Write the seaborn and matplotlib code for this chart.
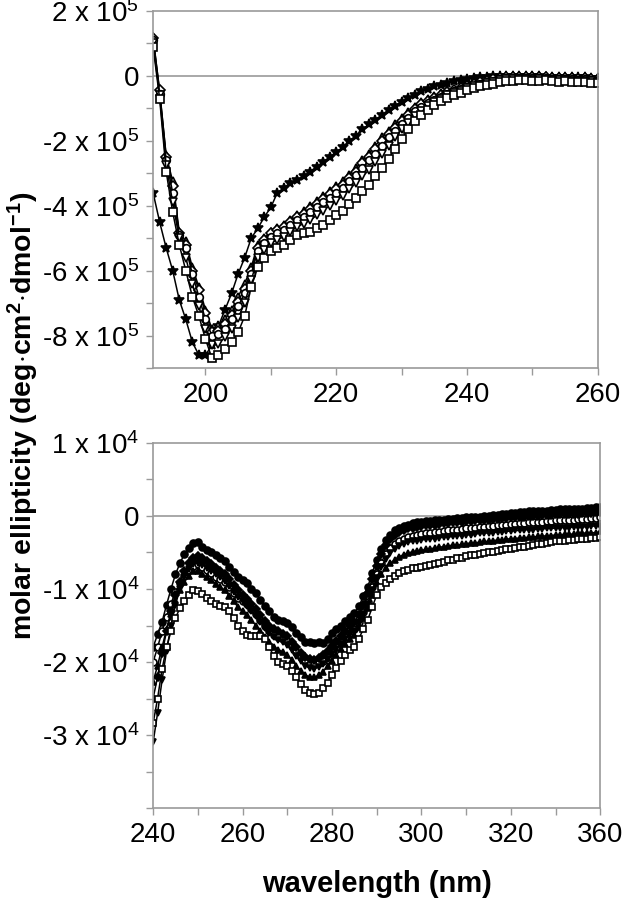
import numpy as np
import pandas as pd
import seaborn as sns
import matplotlib.pyplot as plt
from matplotlib.ticker import MultipleLocator, FixedLocator

sns.set_style("ticks")
plt.rcParams['font.family'] = ['Liberation Sans', 'DejaVu Sans']
plt.rcParams['mathtext.fontset'] = 'custom'
plt.rcParams['mathtext.rm'] = 'Liberation Sans'
plt.rcParams['mathtext.it'] = 'Liberation Sans:italic'
plt.rcParams['mathtext.bf'] = 'Liberation Sans:bold'
plt.rcParams['text.color'] = 'black'
plt.rcParams['xtick.labelcolor'] = 'black'
plt.rcParams['ytick.labelcolor'] = 'black'
plt.rcParams['axes.labelcolor'] = 'black'

# ---- far-UV panel (values in units of 1e5) ----
far_wavelength = np.arange(192, 261)

far_star = [-3.6, -4.5, -5.3, -6.0, -6.9, -7.5, -8.2, -8.6, -8.6, -8.3,
            -7.7, -7.2, -6.7, -6.1, -5.6, -5.0, -4.7, -4.35, -4.05, -3.6,
            -3.45, -3.3, -3.2, -3.1, -2.95, -2.8, -2.65, -2.5, -2.35, -2.2,
            -2.0, -1.85, -1.65, -1.5, -1.35, -1.2, -1.05, -0.92, -0.8, -0.68,
            -0.58, -0.48, -0.4, -0.33, -0.27, -0.22, -0.17, -0.13, -0.1, -0.07,
            -0.05, -0.03, -0.02, -0.01, 0.0, 0.0, 0.0, -0.01, -0.02, -0.02,
            -0.03, -0.03, -0.04, -0.04, -0.05, -0.05, -0.05, -0.06, -0.06]

far_triangle_up = [1.2, -0.5, -2.45, -3.25, -4.8, -5.1, -5.9, -6.5, -7.2, -7.8,
                   -7.7, -7.5, -7.2, -6.8, -6.4, -5.9, -5.2, -5.0, -4.8, -4.7,
                   -4.6, -4.45, -4.3, -4.15, -4.0, -3.85, -3.7, -3.55, -3.4, -3.25,
                   -3.05, -2.85, -2.6, -2.4, -2.15, -1.9, -1.7, -1.5, -1.3, -1.12,
                   -0.95, -0.82, -0.72, -0.62, -0.52, -0.44, -0.4, -0.38, -0.32, -0.25,
                   -0.19, -0.14, -0.1, -0.06, -0.03, -0.01, 0.0, 0.0, -0.01, -0.02,
                   -0.01, -0.03, -0.04, -0.03, -0.05, -0.06, -0.05, -0.07, -0.08]

far_diamond = [1.15, -0.45, -2.5, -3.4, -4.85, -5.2, -6.0, -6.6, -7.3, -7.9,
               -7.85, -7.65, -7.35, -6.95, -6.55, -6.0, -5.3, -5.05, -4.85, -4.75,
               -4.65, -4.5, -4.35, -4.25, -4.1, -3.95, -3.8, -3.65, -3.5, -3.35,
               -3.15, -2.95, -2.7, -2.5, -2.25, -2.0, -1.8, -1.6, -1.4, -1.2,
               -1.02, -0.88, -0.78, -0.68, -0.58, -0.5, -0.43, -0.38, -0.32, -0.26,
               -0.2, -0.15, -0.11, -0.08, -0.05, -0.03, -0.03, -0.04, -0.05, -0.05,
               -0.04, -0.06, -0.07, -0.06, -0.08, -0.09, -0.08, -0.1, -0.11]

far_circle = [1.1, -0.55, -2.6, -3.6, -4.9, -5.3, -6.1, -6.8, -7.5, -8.0,
              -7.95, -7.8, -7.5, -7.1, -6.7, -6.1, -5.4, -5.15, -4.95, -4.85,
              -4.75, -4.6, -4.45, -4.35, -4.2, -4.05, -3.9, -3.75, -3.6, -3.45,
              -3.25, -3.05, -2.85, -2.6, -2.4, -2.15, -1.9, -1.7, -1.5, -1.3,
              -1.1, -0.95, -0.85, -0.74, -0.64, -0.55, -0.47, -0.42, -0.36, -0.3,
              -0.24, -0.19, -0.15, -0.11, -0.08, -0.06, -0.06, -0.07, -0.08, -0.08,
              -0.07, -0.09, -0.1, -0.09, -0.11, -0.12, -0.11, -0.13, -0.14]

far_triangle_down = [1.0, -0.6, -2.75, -3.9, -5.0, -5.6, -6.4, -7.1, -7.8, -8.3,
                     -8.25, -8.05, -7.8, -7.45, -7.0, -6.3, -5.6, -5.35, -5.15, -5.05,
                     -4.95, -4.8, -4.65, -4.55, -4.45, -4.3, -4.15, -4.0, -3.85, -3.7,
                     -3.5, -3.3, -3.1, -2.9, -2.65, -2.4, -2.15, -1.9, -1.65, -1.45,
                     -1.25, -1.07, -0.94, -0.82, -0.7, -0.6, -0.52, -0.46, -0.39, -0.33,
                     -0.27, -0.22, -0.18, -0.14, -0.11, -0.1, -0.1, -0.11, -0.12, -0.11,
                     -0.12, -0.13, -0.14, -0.13, -0.15, -0.16, -0.15, -0.17, -0.18]

far_square = [0.9, -0.7, -2.95, -4.2, -5.2, -6.0, -6.8, -7.4, -8.1, -8.7,
              -8.6, -8.4, -8.2, -7.9, -7.4, -6.5, -5.9, -5.6, -5.4, -5.3,
              -5.2, -5.05, -4.9, -4.85, -4.8, -4.7, -4.6, -4.45, -4.3, -4.15,
              -3.95, -3.75, -3.55, -3.35, -3.1, -2.85, -2.55, -2.25, -1.95, -1.65,
              -1.4, -1.2, -1.05, -0.9, -0.78, -0.68, -0.6, -0.52, -0.45, -0.38,
              -0.32, -0.27, -0.24, -0.2, -0.17, -0.15, -0.14, -0.14, -0.15, -0.16,
              -0.14, -0.16, -0.18, -0.17, -0.19, -0.2, -0.19, -0.21, -0.22]

# ---- near-UV panel (values in units of 1e4) ----
near_wavelength = np.arange(240, 341)

near_dot = [-1.80, -1.62, -1.45, -1.22, -1.00, -0.80, -0.65, -0.52, -0.44, -0.37,
            -0.36, -0.42, -0.47, -0.50, -0.54, -0.57, -0.62, -0.70, -0.77, -0.83,
            -0.88, -0.92, -1.00, -1.06, -1.15, -1.23, -1.30, -1.38, -1.42, -1.44,
            -1.46, -1.52, -1.60, -1.66, -1.72, -1.73, -1.74, -1.72, -1.74, -1.68,
            -1.60, -1.55, -1.50, -1.44, -1.38, -1.33, -1.24, -1.10, -0.97, -0.78,
            -0.60, -0.45, -0.33, -0.26, -0.20, -0.17, -0.14, -0.12, -0.10, -0.09,
            -0.08, -0.07, -0.07, -0.06, -0.05, -0.05, -0.04, -0.04, -0.03, -0.03,
            -0.02, -0.02, -0.01, -0.01, 0.00, 0.00, 0.01, 0.01, 0.02, 0.03,
            0.04, 0.04, 0.05, 0.05, 0.06, 0.06, 0.07, 0.07, 0.07, 0.08,
            0.08, 0.09, 0.09, 0.09, 0.10, 0.10, 0.10, 0.11, 0.11, 0.12,
            0.12]

near_circle = [-2.00, -1.80, -1.58, -1.38, -1.20, -1.04, -0.92, -0.82, -0.74, -0.68,
               -0.66, -0.70, -0.74, -0.78, -0.83, -0.86, -0.90, -0.97, -1.05, -1.12,
               -1.16, -1.21, -1.28, -1.34, -1.42, -1.50, -1.57, -1.63, -1.66, -1.68,
               -1.71, -1.78, -1.86, -1.93, -1.99, -2.02, -2.03, -2.01, -1.98, -1.93,
               -1.86, -1.79, -1.72, -1.66, -1.60, -1.55, -1.45, -1.32, -1.18, -0.98,
               -0.80, -0.64, -0.52, -0.44, -0.38, -0.34, -0.31, -0.29, -0.27, -0.26,
               -0.25, -0.24, -0.23, -0.22, -0.22, -0.21, -0.20, -0.19, -0.19, -0.18,
               -0.17, -0.17, -0.16, -0.15, -0.15, -0.14, -0.14, -0.13, -0.12, -0.12,
               -0.11, -0.11, -0.10, -0.10, -0.09, -0.09, -0.08, -0.08, -0.07, -0.07,
               -0.06, -0.06, -0.06, -0.05, -0.05, -0.04, -0.04, -0.04, -0.03, -0.03,
               -0.02]

near_diamond = [-2.50, -2.20, -1.88, -1.58, -1.30, -1.08, -0.90, -0.76, -0.65, -0.58,
                -0.55, -0.58, -0.62, -0.66, -0.71, -0.75, -0.80, -0.87, -0.95, -1.02,
                -1.08, -1.14, -1.21, -1.28, -1.36, -1.44, -1.50, -1.55, -1.58, -1.61,
                -1.65, -1.72, -1.80, -1.87, -1.93, -1.96, -1.97, -1.95, -1.91, -1.85,
                -1.78, -1.71, -1.64, -1.57, -1.51, -1.45, -1.35, -1.22, -1.06, -0.86,
                -0.68, -0.52, -0.40, -0.32, -0.26, -0.22, -0.19, -0.17, -0.16, -0.15,
                -0.14, -0.13, -0.12, -0.12, -0.11, -0.10, -0.10, -0.09, -0.08, -0.08,
                -0.07, -0.07, -0.06, -0.06, -0.05, -0.05, -0.04, -0.04, -0.03, -0.03,
                -0.02, -0.02, -0.01, -0.01, 0.00, 0.00, 0.00, 0.01, 0.01, 0.01,
                0.02, 0.02, 0.02, 0.03, 0.03, 0.03, 0.04, 0.04, 0.04, 0.05,
                0.05]

near_triangle_up = [-2.27, -2.05, -1.80, -1.55, -1.34, -1.16, -1.02, -0.90, -0.82, -0.76,
                    -0.75, -0.79, -0.84, -0.88, -0.93, -0.97, -1.02, -1.09, -1.17, -1.25,
                    -1.30, -1.36, -1.43, -1.50, -1.58, -1.66, -1.73, -1.79, -1.83, -1.86,
                    -1.90, -1.97, -2.05, -2.12, -2.18, -2.20, -2.21, -2.18, -2.13, -2.06,
                    -1.98, -1.90, -1.82, -1.75, -1.69, -1.63, -1.52, -1.40, -1.26, -1.08,
                    -0.92, -0.80, -0.71, -0.65, -0.60, -0.56, -0.53, -0.51, -0.49, -0.48,
                    -0.47, -0.46, -0.45, -0.44, -0.43, -0.42, -0.41, -0.40, -0.40, -0.39,
                    -0.38, -0.37, -0.37, -0.36, -0.35, -0.35, -0.34, -0.33, -0.33, -0.32,
                    -0.31, -0.31, -0.30, -0.30, -0.29, -0.29, -0.28, -0.28, -0.27, -0.27,
                    -0.26, -0.26, -0.25, -0.25, -0.25, -0.24, -0.24, -0.23, -0.23, -0.23,
                    -0.22]

near_triangle_down = [-3.10, -2.70, -2.25, -1.85, -1.50, -1.22, -1.00, -0.84, -0.73, -0.66,
                      -0.64, -0.67, -0.71, -0.75, -0.80, -0.84, -0.89, -0.96, -1.04, -1.11,
                      -1.17, -1.23, -1.30, -1.37, -1.45, -1.53, -1.60, -1.66, -1.70, -1.73,
                      -1.77, -1.84, -1.92, -1.99, -2.05, -2.08, -2.09, -2.07, -2.02, -1.96,
                      -1.89, -1.82, -1.75, -1.68, -1.62, -1.57, -1.47, -1.34, -1.20, -1.02,
                      -0.85, -0.70, -0.59, -0.51, -0.45, -0.41, -0.38, -0.36, -0.35, -0.34,
                      -0.33, -0.32, -0.31, -0.31, -0.30, -0.29, -0.29, -0.28, -0.27, -0.27,
                      -0.26, -0.26, -0.25, -0.24, -0.24, -0.23, -0.23, -0.22, -0.22, -0.21,
                      -0.21, -0.20, -0.20, -0.19, -0.19, -0.19, -0.18, -0.18, -0.17, -0.17,
                      -0.17, -0.16, -0.16, -0.16, -0.15, -0.15, -0.15, -0.15, -0.14, -0.14,
                      -0.14]

near_square = [-2.84, -2.50, -2.10, -1.80, -1.58, -1.40, -1.26, -1.16, -1.08, -1.01,
               -1.03, -1.07, -1.12, -1.16, -1.20, -1.23, -1.25, -1.30, -1.40, -1.50,
               -1.58, -1.63, -1.64, -1.65, -1.65, -1.68, -1.80, -1.92, -2.00, -2.02,
               -2.05, -2.12, -2.20, -2.30, -2.38, -2.43, -2.44, -2.42, -2.36, -2.28,
               -2.18, -2.08, -1.98, -1.90, -1.84, -1.80, -1.68, -1.55, -1.42, -1.25,
               -1.08, -0.98, -0.92, -0.87, -0.82, -0.78, -0.76, -0.74, -0.72, -0.71,
               -0.70, -0.69, -0.67, -0.66, -0.64, -0.63, -0.61, -0.60, -0.58, -0.57,
               -0.55, -0.54, -0.53, -0.52, -0.51, -0.50, -0.49, -0.48, -0.47, -0.46,
               -0.45, -0.44, -0.43, -0.42, -0.41, -0.40, -0.39, -0.38, -0.37, -0.36,
               -0.35, -0.35, -0.34, -0.33, -0.33, -0.32, -0.31, -0.31, -0.30, -0.30,
               -0.29]

top_ytick_values = [2e5, 0, -2e5, -4e5, -6e5, -8e5]
top_ytick_labels = ["2 x 10$^5$", "0", "-2 x 10$^5$", "-4 x 10$^5$",
                    "-6 x 10$^5$", "-8 x 10$^5$"]
top_xtick_values = [200, 220, 240, 260]
top_xtick_labels = ["200", "220", "240", "260"]

bottom_ytick_values = [1e4, 0, -1e4, -2e4, -3e4]
bottom_ytick_labels = ["1 x 10$^4$", "0", "-1 x 10$^4$", "-2 x 10$^4$", "-3 x 10$^4$"]
bottom_xtick_values = [240, 260, 280, 300, 320, 340]
bottom_xtick_labels = ["240", "260", "280", "300", "320", "360"]

# (values, marker, facecolor, size)
far_series = [
    (far_star, '*', 'black', 7),
    (far_triangle_up, '^', 'white', 5.5),
    (far_diamond, 'D', 'white', 5),
    (far_circle, 'o', 'white', 5.5),
    (far_triangle_down, 'v', 'white', 5.5),
    (far_square, 's', 'white', 5.5),
]
near_series = [
    (near_dot, 'o', 'black', 5),
    (near_circle, 'o', 'white', 5),
    (near_diamond, 'D', 'black', 4.5),
    (near_triangle_up, '^', 'black', 5),
    (near_triangle_down, 'v', 'black', 5),
    (near_square, 's', 'white', 5),
]

axis_grey = '#9a9a9a'
tick_size = 20

fig = plt.figure(figsize=(6.3, 9), dpi=100)
ax_top = fig.add_axes([0.243, 0.591, 0.706, 0.397])
ax_bot = fig.add_axes([0.243, 0.102, 0.710, 0.406])


def draw_panel(ax, wl, series, scale):
    ax.axhline(0, color=axis_grey, lw=1.2, zorder=0)
    for vals, marker, fc, ms in series:
        sns.lineplot(x=wl, y=np.array(vals) * scale, ax=ax, color='black',
                     linewidth=1.1, marker=marker, markersize=ms,
                     markerfacecolor=fc, markeredgecolor='black',
                     markeredgewidth=1.2, estimator=None, legend=False)
    for sp in ax.spines.values():
        sp.set_visible(True)
        sp.set_color(axis_grey)
        sp.set_linewidth(1.2)
    ax.tick_params(which='both', direction='out', length=5, width=1,
                   color=axis_grey, labelsize=tick_size, labelcolor='black', pad=5)
    ax.set_xlabel('')
    ax.set_ylabel('')


draw_panel(ax_top, far_wavelength, far_series, 1e5)
ax_top.set_xlim(192, 260)
ax_top.set_ylim(-9e5, 2e5)
ax_top.yaxis.set_major_locator(FixedLocator(top_ytick_values))
ax_top.set_yticklabels(top_ytick_labels)
ax_top.yaxis.set_minor_locator(MultipleLocator(1e5))
ax_top.xaxis.set_major_locator(FixedLocator(top_xtick_values))
ax_top.set_xticklabels(top_xtick_labels)
ax_top.xaxis.set_minor_locator(MultipleLocator(10))

draw_panel(ax_bot, near_wavelength, near_series, 1e4)
ax_bot.set_xlim(240, 340)
ax_bot.set_ylim(-4e4, 1e4)
ax_bot.yaxis.set_major_locator(FixedLocator(bottom_ytick_values))
ax_bot.set_yticklabels(bottom_ytick_labels)
ax_bot.yaxis.set_minor_locator(MultipleLocator(5e3))
ax_bot.xaxis.set_major_locator(FixedLocator(bottom_xtick_values))
ax_bot.set_xticklabels(bottom_xtick_labels)
ax_bot.xaxis.set_minor_locator(MultipleLocator(10))

ax_bot.set_xlabel('wavelength (nm)', fontsize=21, fontweight='bold', labelpad=16)
fig.text(0.037, 0.538,
         r'molar ellipticity (deg$\cdot$cm$^{\mathbf{2}}$$\cdot$dmol$^{\mathbf{-1}}$)',
         rotation=90, fontsize=20.5, fontweight='bold', ha='center', va='center')

fig.savefig('out.png', dpi=100)
